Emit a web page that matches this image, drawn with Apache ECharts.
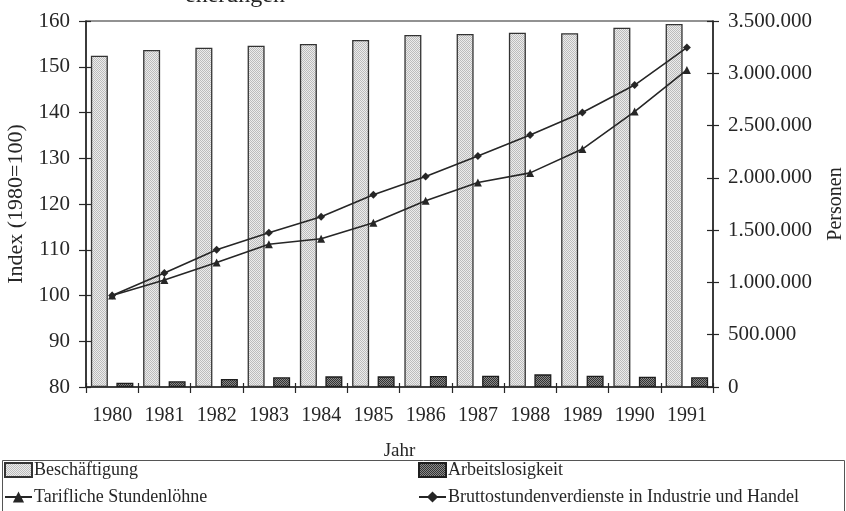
<!DOCTYPE html>
<html>
<head>
<meta charset="utf-8">
<script src="https://cdn.jsdelivr.net/npm/echarts@6/dist/echarts.min.js"></script>
<style>
  html, body { margin: 0; padding: 0; background: #fff; }
  #chart { width: 846px; height: 511px; }
</style>
</head>
<body>
<div id="chart"></div>
<script>
// Jahre
const years = ['1980', '1981', '1982', '1983', '1984', '1985', '1986', '1987', '1988', '1989', '1990', '1991'];

// Personen (rechte Achse)
const beschaeftigung = [3168000, 3223000, 3245000, 3264000, 3280000, 3318000, 3366000, 3376000, 3388000, 3384000, 3436000, 3471000];
const arbeitslosigkeit = [41000, 55000, 76000, 93000, 102000, 102000, 105000, 108000, 121000, 108000, 99000, 93000];

// Index 1980 = 100 (linke Achse)
const tarifLoehne = [100, 103.4, 107.2, 111.2, 112.4, 115.9, 120.7, 124.7, 126.8, 132.0, 140.2, 149.3];
const bruttoVerdienste = [100, 104.9, 110.0, 113.7, 117.2, 122.0, 126.0, 130.5, 135.1, 140.0, 146.0, 154.2];

const FONT = "'Liberation Serif', 'Times New Roman', serif";
const INK = '#262626';

// fine dotted raster fills for the bars
function raster(light, dark) {
  const c = document.createElement('canvas');
  c.width = 2; c.height = 2;
  const g = c.getContext('2d');
  g.fillStyle = light; g.fillRect(0, 0, 2, 2);
  g.fillStyle = dark;
  g.fillRect(0, 0, 1, 1);
  g.fillRect(1, 1, 1, 1);
  return { image: c, repeat: 'repeat' };
}
const lightFill = raster('#ececec', '#bcbcbc');
const darkFill = raster('#8a8a8a', '#333333');

function dotted(v) {
  return String(v).replace(/\B(?=(\d{3})+(?!\d))/g, '.');
}

const chart = echarts.init(document.getElementById('chart'), null, { renderer: 'canvas' });

chart.setOption({
  animation: false,
  backgroundColor: '#fff',
  textStyle: { fontFamily: FONT, color: INK },
  grid: {
    left: 86, right: 133, top: 21, bottom: 124,
    containLabel: false, outerBoundsMode: 'none',
    show: true, borderColor: INK, borderWidth: 1.2, backgroundColor: 'transparent'
  },
  graphic: [
    {
      type: 'text', left: 185, top: -16, silent: true,
      style: { text: 'enerungen', font: '24px ' + FONT, fill: INK }
    },
    {
      type: 'rect', silent: true,
      shape: { x: 2.5, y: 460.5, width: 842, height: 60 },
      style: { fill: 'transparent', stroke: '#555', lineWidth: 1 }
    }
  ],
  legend: [
    {
      data: [{ name: 'Beschäftigung', icon: 'rect' }, 'Tarifliche Stundenlöhne'],
      orient: 'vertical', left: 4, top: 461, itemGap: 9,
      itemWidth: 27, itemHeight: 14, padding: 0,
      textStyle: { fontFamily: FONT, fontSize: 18, color: INK, padding: [0, 0, 0, -3] }
    },
    {
      data: [{ name: 'Arbeitslosigkeit', icon: 'rect' }, 'Bruttostundenverdienste in Industrie und Handel'],
      orient: 'vertical', left: 418, top: 461, itemGap: 9,
      itemWidth: 27, itemHeight: 14, padding: 0,
      textStyle: { fontFamily: FONT, fontSize: 18, color: INK, padding: [0, 0, 0, -3] }
    }
  ],
  xAxis: [
    {
      type: 'category', data: years, boundaryGap: true,
      name: 'Jahr', nameLocation: 'middle', nameGap: 55,
      nameTextStyle: { fontFamily: FONT, fontSize: 19, color: INK },
      axisLine: { lineStyle: { color: INK, width: 1.5 } },
      axisTick: { show: true, length: 6, lineStyle: { color: INK, width: 1.2 } },
      axisLabel: { fontFamily: FONT, fontSize: 20, color: INK, margin: 19, interval: 0 },
      splitLine: { show: false }
    },
    {
      type: 'category', data: years, boundaryGap: true, position: 'bottom',
      axisLine: { show: false },
      axisTick: { show: true, inside: true, length: 4, lineStyle: { color: INK, width: 1.2 } },
      axisLabel: { show: false },
      splitLine: { show: false }
    }
  ],
  yAxis: [
    {
      type: 'value', position: 'left', min: 80, max: 160, interval: 10,
      name: 'Index (1980=100)', nameLocation: 'middle', nameGap: 54, nameRotate: 90,
      nameTextStyle: { fontFamily: FONT, fontSize: 22, color: INK },
      axisLine: { show: true, lineStyle: { color: INK, width: 1.5 } },
      axisTick: { show: true, length: 7, lineStyle: { color: INK, width: 1.2 } },
      axisLabel: { fontFamily: FONT, fontSize: 21, color: INK, margin: 16 },
      splitLine: { show: false }
    },
    {
      type: 'value', position: 'right', min: 0, max: 3500000, interval: 500000,
      name: 'Personen', nameLocation: 'middle', nameGap: 113, nameRotate: 90,
      nameTextStyle: { fontFamily: FONT, fontSize: 20, color: INK },
      axisLine: { show: true, lineStyle: { color: INK, width: 1.5 } },
      axisTick: { show: true, length: 6, lineStyle: { color: INK, width: 1.2 } },
      axisLabel: { fontFamily: FONT, fontSize: 21, color: INK, margin: 15, formatter: dotted },
      splitLine: { show: false }
    },
    {
      type: 'value', position: 'left', min: 80, max: 160, interval: 10,
      axisLine: { show: false },
      axisTick: { show: true, inside: true, length: 5, lineStyle: { color: INK, width: 1.2 } },
      axisLabel: { show: false },
      splitLine: { show: false }
    },
    {
      type: 'value', position: 'right', min: 0, max: 3500000, interval: 500000,
      axisLine: { show: false },
      axisTick: { show: true, inside: true, length: 6, lineStyle: { color: INK, width: 1.2 } },
      axisLabel: { show: false },
      splitLine: { show: false }
    }
  ],
  series: [
    {
      name: 'Beschäftigung', type: 'bar', yAxisIndex: 1, data: beschaeftigung,
      barWidth: 17, barGap: '50%',
      itemStyle: { color: lightFill, borderColor: '#333', borderWidth: 1.3 },
      z: 2
    },
    {
      name: 'Arbeitslosigkeit', type: 'bar', yAxisIndex: 1, data: arbeitslosigkeit,
      barWidth: 17, barGap: '50%',
      itemStyle: { color: darkFill, borderColor: '#1e1e1e', borderWidth: 1.3 },
      z: 2
    },
    {
      name: 'Tarifliche Stundenlöhne', type: 'line', yAxisIndex: 0, data: tarifLoehne,
      symbol: 'triangle', symbolSize: 8, showSymbol: true,
      lineStyle: { color: INK, width: 1.6 },
      itemStyle: { color: INK },
      z: 4
    },
    {
      name: 'Bruttostundenverdienste in Industrie und Handel', type: 'line', yAxisIndex: 0, data: bruttoVerdienste,
      symbol: 'diamond', symbolSize: 8, showSymbol: true,
      lineStyle: { color: INK, width: 1.6 },
      itemStyle: { color: INK },
      z: 4
    }
  ]
});
</script>
</body>
</html>
